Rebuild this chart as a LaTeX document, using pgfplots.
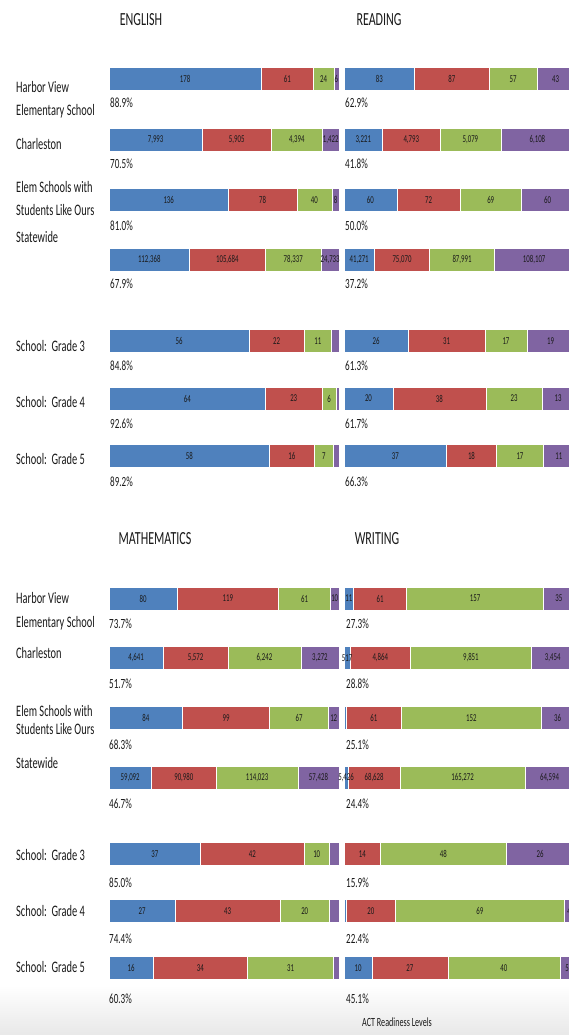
\documentclass[border=0pt]{standalone}
\usepackage{pgfplots}
\pgfplotsset{compat=1.18}
\usepackage{pgfplotstable}
\usepackage{fontspec}
\setmainfont{Carlito}[FakeStretch=0.65]

\definecolor{cb}{HTML}{4F81BD}
\definecolor{cr}{HTML}{C0504D}
\definecolor{cg}{HTML}{9BBB59}
\definecolor{cp}{HTML}{8064A2}
\definecolor{txt}{HTML}{1A1A1A}

% columns: y = row position, b/r/g/p = counts of the four ACT readiness levels, *l = printed label
\pgfplotstableread{
y b bl r rl g gl p pl
79 178 178 61 61 24 24 6 6
140 7993 7,993 5905 5,905 4394 4,394 1422 1,422
200 136 136 78 78 40 40 8 8
260 112368 112,368 105684 105,684 78337 78,337 24733 24,733
341 56 56 22 22 11 11 3 {}
398.5 64 64 23 23 6 6 1 {}
456 58 58 16 16 7 7 2 {}
}\tabEng

\pgfplotstableread{
y b bl r rl g gl p pl
79 83 83 87 87 57 57 43 43
140 3221 3,221 4793 4,793 5079 5,079 6108 6,108
200 60 60 72 72 69 69 60 60
260 41271 41,271 75070 75,070 87991 87,991 108107 108,107
341 26 26 31 31 17 17 19 19
398.5 20 20 38 38 23 23 13 13
456 37 37 18 18 17 17 11 11
}\tabRead

\pgfplotstableread{
y b bl r rl g gl p pl
598.5 80 80 119 119 61 61 10 10
658 4641 4,641 5572 5,572 6242 6,242 3272 3,272
718 84 84 99 99 67 67 12 12
778 59092 59,092 90980 90,980 114023 114,023 57428 57,428
854 37 37 42 42 10 10 4 {}
911 27 27 43 43 20 20 4 {}
968 16 16 34 34 31 31 2 {}
}\tabMath

\pgfplotstableread{
y b bl r rl g gl p pl
598.5 11 11 61 61 157 157 35 35
658 517 517 4864 4,864 9851 9,851 3454 3,454
718 2 {} 61 61 152 152 36 36
778 5426 5,426 68628 68,628 165272 165,272 64594 64,594
854 0 {} 14 14 48 48 26 26
911 1 {} 20 20 69 69 4 4
968 10 10 27 27 40 40 5 5
}\tabWrit

\pgfplotsset{
  seg/.style={fill=#1, draw=white, line width=0.5pt},
  segl/.style={draw=none, mark=none, nodes near coords, point meta=explicit symbolic,
    every node near coord/.style={anchor=center, inner sep=0pt, text=txt,
      font=\fontsize{10.5}{11}\selectfont}},
  pan/.style n args={3}{at={(#1pt,-#2pt)}, anchor=north west,
    hide axis, scale only axis, width=230pt, height=#3pt,
    xmin=0, xmax=100, enlargelimits=false, clip=false, y dir=reverse},
}

\def\T{(\thisrow{b}+\thisrow{r}+\thisrow{g}+\thisrow{p})}

\newcommand\panel[5]{%
\begin{axis}[pan={#2}{#3}{#5}, ymin=#3, ymax=#4, xbar stacked, bar width=23pt]
\addplot[seg=cb] table[x expr={\thisrow{b}/\T*100}, y=y] {#1};
\addplot[seg=cr] table[x expr={\thisrow{r}/\T*100}, y=y] {#1};
\addplot[seg=cg] table[x expr={\thisrow{g}/\T*100}, y=y] {#1};
\addplot[seg=cp] table[x expr={\thisrow{p}/\T*100}, y=y] {#1};
\end{axis}
\begin{axis}[pan={#2}{#3}{#5}, ymin=#3, ymax=#4]
\addplot[segl] table[x expr={(0.5*\thisrow{b})/\T*100}, y=y, meta=bl] {#1};
\addplot[segl] table[x expr={(\thisrow{b}+0.5*\thisrow{r})/\T*100}, y=y, meta=rl] {#1};
\addplot[segl] table[x expr={(\thisrow{b}+\thisrow{r}+0.5*\thisrow{g})/\T*100}, y=y, meta=gl] {#1};
\addplot[segl] table[x expr={(\thisrow{b}+\thisrow{r}+\thisrow{g}+0.5*\thisrow{p})/\T*100}, y=y, meta=pl] {#1};
\end{axis}}

\newcommand\lab[3]{\node[anchor=base west, inner sep=0pt, text=txt, font=\fontsize{16}{16}\selectfont] at (#1pt,-#2pt) {#3};}
\newcommand\pct[3]{\node[anchor=base west, inner sep=0pt, text=txt, font=\fontsize{14}{14}\selectfont] at (#1pt,-#2pt) {#3};}
\newcommand\ttl[3]{\node[anchor=center, inner sep=0pt, text=txt, font=\fontsize{18.5}{18.5}\selectfont] at (#1pt,-#2pt) {#3};}

\begin{document}
\begin{tikzpicture}
\path[use as bounding box] (0,0) rectangle (569pt,-1035pt);
\clip (0,0) rectangle (569pt,-1035pt);
\fill[white] (0,0) rectangle (569pt,-1035pt);
\shade[top color=white, bottom color=black!9] (0,-985pt) rectangle (569pt,-1035pt);

\panel{\tabEng}{109}{50}{500}{450}
\panel{\tabRead}{344}{50}{500}{450}
\panel{\tabMath}{109}{570}{1000}{430}
\panel{\tabWrit}{344}{570}{1000}{430}

% titles
\ttl{141}{20}{ENGLISH}
\ttl{379}{20}{READING}
\ttl{155}{539}{MATHEMATICS}
\ttl{377}{539}{WRITING}

% row labels, upper half
\lab{16}{93}{Harbor View}
\lab{16}{116}{Elementary School}
\lab{16}{150}{Charleston}
\lab{16}{193}{Elem Schools with}
\lab{16}{215}{Students Like Ours}
\lab{16}{242}{Statewide}
\lab{16}{351}{School:\ \ Grade 3}
\lab{16}{407}{School:\ \ Grade 4}
\lab{16}{464}{School:\ \ Grade 5}
% row labels, lower half
\lab{16}{603}{Harbor View}
\lab{16}{627}{Elementary School}
\lab{16}{658}{Charleston}
\lab{16}{716}{Elem Schools with}
\lab{16}{734}{Students Like Ours}
\lab{16}{768}{Statewide}
\lab{16}{860}{School:\ \ Grade 3}
\lab{16}{916}{School:\ \ Grade 4}
\lab{16}{972}{School:\ \ Grade 5}

% percentages, English
\pct{110}{108}{88.9\%}
\pct{110}{168}{70.5\%}
\pct{110}{230}{81.0\%}
\pct{110}{288}{67.9\%}
\pct{110}{370}{84.8\%}
\pct{110}{428}{92.6\%}
\pct{110}{486}{89.2\%}
% Reading
\pct{345}{108}{62.9\%}
\pct{345}{168}{41.8\%}
\pct{345}{230}{50.0\%}
\pct{345}{288}{37.2\%}
\pct{345}{370}{61.3\%}
\pct{345}{428}{61.7\%}
\pct{345}{486}{66.3\%}
% Mathematics
\pct{109}{628}{73.7\%}
\pct{109}{688}{51.7\%}
\pct{109}{749}{68.3\%}
\pct{109}{808}{46.7\%}
\pct{109}{887}{85.0\%}
\pct{109}{943}{74.4\%}
\pct{109}{1003}{60.3\%}
% Writing
\pct{346}{628}{27.3\%}
\pct{346}{688}{28.8\%}
\pct{346}{749}{25.1\%}
\pct{346}{808}{24.4\%}
\pct{346}{887}{15.9\%}
\pct{346}{943}{22.4\%}
\pct{346}{1003}{45.1\%}

\node[anchor=center, inner sep=0pt, text=txt, font=\fontsize{12.5}{12.5}\selectfont] at (397pt,-1022pt) {ACT Readiness Levels};
\end{tikzpicture}
\end{document}
